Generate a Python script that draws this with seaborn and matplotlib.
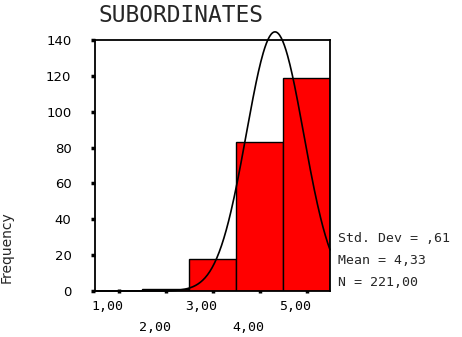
import numpy as np
import pandas as pd
import matplotlib
matplotlib.use("Agg")
import matplotlib.pyplot as plt
import matplotlib.transforms as mtransforms
import seaborn as sns

# Histogram data (bin centres and counts)
bin_centers = [2, 3, 4, 5]
counts = [1, 18, 83, 119]
bin_edges = [1.5, 2.5, 3.5, 4.5, 5.5]
x_ticks = [1, 2, 3, 4, 5]
x_labels = ["1,00", "\n2,00", "3,00", "\n4,00", "5,00"]
y_ticks = [0, 20, 40, 60, 80, 100, 120, 140]

# Summary stats shown on the chart
std_dev = 0.61
mean = 4.33
n_total = 221

sns.set_style("white")
plt.rcParams['font.family'] = ['DejaVu Sans']

fig = plt.figure(figsize=(4.62, 3.37), dpi=100)
ax = fig.add_axes([95 / 462, 1 - 291 / 337, 235 / 462, 251 / 337])

df = pd.DataFrame({"value": bin_centers, "count": counts})
sns.histplot(data=df, x="value", weights="count", bins=bin_edges,
             color="#ff0000", edgecolor="black", linewidth=1.0, alpha=1.0, ax=ax)

# Fitted normal curve from the displayed mean / std dev / N (bin width 1)
xs = np.linspace(0.5, 5.5, 300)
ys = n_total / (std_dev * np.sqrt(2 * np.pi)) * np.exp(-0.5 * ((xs - mean) / std_dev) ** 2)
ax.plot(xs, ys, color="black", linewidth=1.2, clip_on=False)

ax.set_xlim(0.5, 5.5)
ax.set_ylim(0, 140)
ax.set_yticks(y_ticks)
ax.set_xticks(x_ticks)
ax.set_xticklabels(x_labels, family="DejaVu Sans Mono", fontsize=9.5, linespacing=1.75)
ax.tick_params(axis="y", left=True, labelsize=9.5, length=3, width=2.5,
               direction="out", pad=14, colors="black")
ax.tick_params(axis="x", bottom=True, length=3, width=2.5, direction="inout",
               pad=5, colors="black")
ax.set_xlabel("")
ax.set_ylabel("")

# SPSS-like offset of the x tick labels
shift = mtransforms.ScaledTranslation(-11 / 100, 0, fig.dpi_scale_trans)
for lab in ax.get_xticklabels():
    lab.set_transform(lab.get_transform() + shift)

for side in ["left", "right", "top", "bottom"]:
    ax.spines[side].set_visible(True)
    ax.spines[side].set_color("black")
    ax.spines[side].set_linewidth(1.3)

fig.text(98 / 462, 1 - 15 / 337, "SUBORDINATES", family="DejaVu Sans Mono",
         fontsize=16.5, va="center", ha="left")
fig.text(7 / 462, 1 - 247 / 337, "Frequency", rotation=90, fontsize=10,
         va="center", ha="center")

stats = ["Std. Dev = ,61", "Mean = 4,33", "N = 221,00"]
for i, s in enumerate(stats):
    fig.text(338 / 462, 1 - (238 + 22 * i) / 337, s, family="DejaVu Sans Mono",
             fontsize=9.5, va="center", ha="left")

fig.savefig("out.png", dpi=100)
